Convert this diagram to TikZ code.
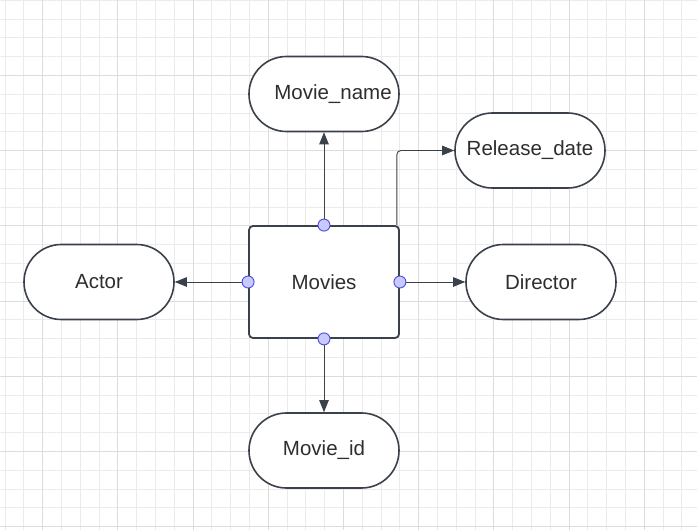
\documentclass[tikz,border=0pt]{standalone}
\usepackage{fontspec}
\setmainfont{Liberation Sans}
\usepackage{xcolor}
\usetikzlibrary{arrows.meta}
\definecolor{edgecol}{HTML}{3A414B}
\definecolor{txtcol}{HTML}{2E2E2E}
\definecolor{dotfill}{HTML}{C8C9FF}
\definecolor{dotline}{HTML}{4B4BD6}
\definecolor{gridmin}{HTML}{EBEBEB}
\definecolor{gridmaj}{HTML}{DCDCDC}

\begin{document}
\begin{tikzpicture}[x=1pt,y=-1pt,
  attr/.style={draw=edgecol,line width=1.6pt,fill=white,rounded corners=37.4pt,
    minimum width=150pt,minimum height=75pt,text=txtcol,font=\fontsize{20.5}{24}\selectfont},
  ent/.style={draw=edgecol,line width=1.8pt,fill=white,rounded corners=4pt,
    minimum width=150pt,minimum height=112pt,text=txtcol,font=\fontsize{20.5}{24}\selectfont},
  dot/.style={circle,draw=dotline,fill=dotfill,line width=0.9pt,minimum size=12pt,inner sep=0pt},
  arr/.style={draw=edgecol,line width=0.9pt,-{Triangle[length=12pt,width=9.5pt]}}]
\useasboundingbox (0,0) rectangle (697,530);
\fill[white] (0,0) rectangle (697,530);

%grid
\foreach \i in {0,...,37} {
  \draw[gridmin,line width=0.9pt] (5+18.8*\i,0) -- (5+18.8*\i,530);
}
\foreach \i in {0,...,28} {
  \draw[gridmin,line width=0.9pt] (0,0.3+18.8*\i) -- (697,0.3+18.8*\i);
}
\foreach \i in {0,...,9} {
  \draw[gridmaj,line width=0.9pt] (42.6+75.2*\i,0) -- (42.6+75.2*\i,530);
}
\foreach \i in {1,...,7} {
  \draw[gridmaj,line width=0.9pt] (0,0.3+75.2*\i) -- (697,0.3+75.2*\i);
}

%Movies
\node[ent] (mv) at (324,282) {Movies};

%attributes
\node[attr] (mn) at (324,94) {\hspace*{18pt}Movie\_name};
\node[attr] (rd) at (530,150.5) {Release\_date};
\node[attr] (ac) at (99,282) {Actor};
\node[attr] (dr) at (541,282) {Director};
\node[attr] (mi) at (324,450.5) {Movie\_id};

%edges
\draw[arr] (mv.north) -- (mn.south);
\draw[arr] (mv.west) -- (ac.east);
\draw[arr] (mv.east) -- (dr.west);
\draw[arr] (mv.south) -- (mi.north);
\coordinate (rs) at ([xshift=-3pt]mv.north east);
\draw[arr,rounded corners=4pt] (rs) |- (rd.west);

%dots
\node[dot] (dn) at (mv.north) {};
\node[dot] (dw) at (mv.west) {};
\node[dot] (de) at (mv.east) {};
\node[dot] (ds) at (mv.south) {};
\end{tikzpicture}
\end{document}
